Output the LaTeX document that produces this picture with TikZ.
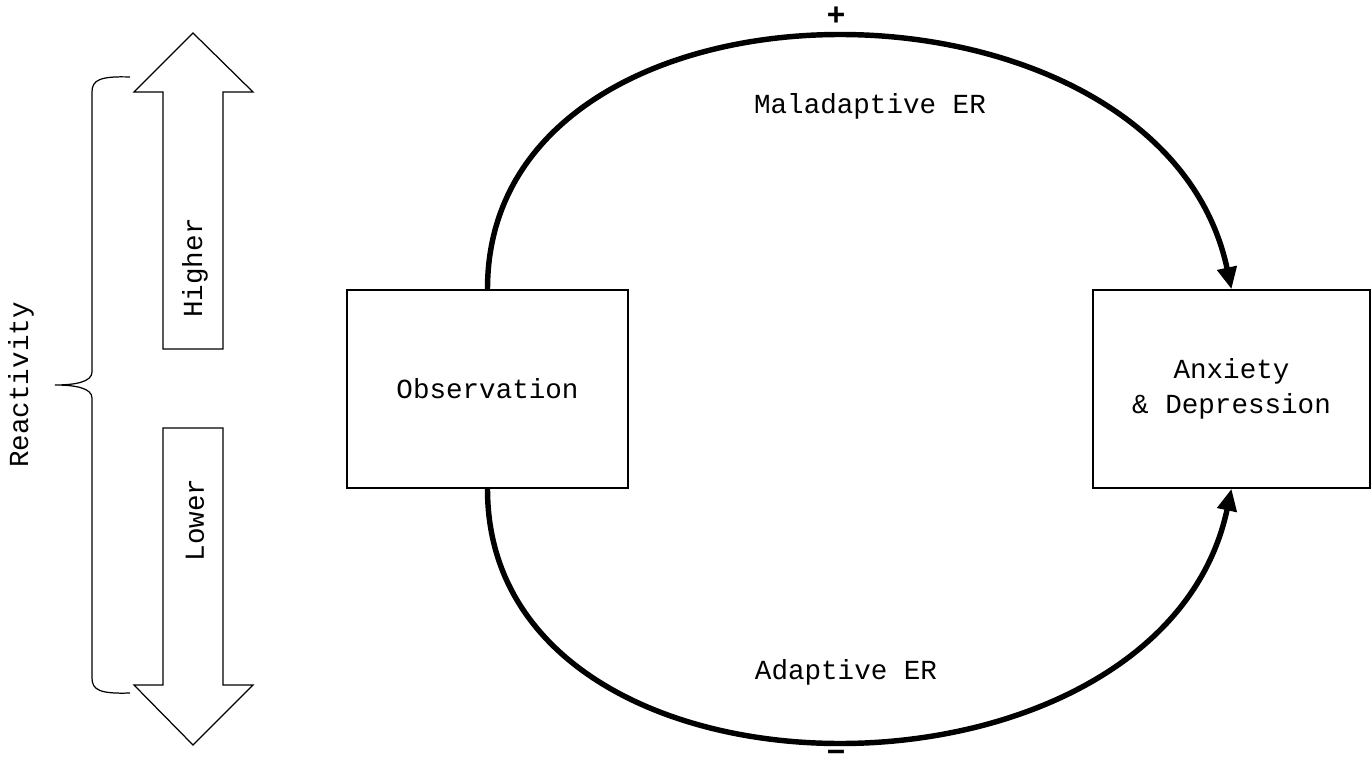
\documentclass[tikz,border=0pt]{standalone}
\usepackage{fontspec}
\setmainfont{Liberation Mono}
\newfontfamily\signfont{Liberation Sans}
\usepackage{tikz}
\usetikzlibrary{arrows.meta,positioning}
\tikzset{
  lbl/.style={font=\fontsize{15.7}{20}\selectfont},
  statebox/.style={rectangle, draw=black, line width=0.8pt,
                   minimum width=5.62cm, minimum height=3.96cm,
                   align=center, lbl},
  blockarr/.style={draw=black, line width=0.7pt, fill=white},
  erarr/.style={-{Triangle[length=0.44cm, width=0.38cm]}, line width=3.1pt, draw=black},
  sign/.style={font=\signfont\bfseries\fontsize{18}{20}\selectfont, inner sep=0pt},
}

\begin{document}
\begin{tikzpicture}[x=0.02cm, y=-0.02cm]
  \useasboundingbox (0,0) rectangle (1371,763);
  % reactivity scale
  \draw[blockarr] (163,349) -- (163,92) -- (134,92) -- (193,33) -- (253,92) -- (223,92) -- (223,349) -- cycle;
  \draw[blockarr] (163,428) -- (163,685) -- (134,685) -- (193,745) -- (253,685) -- (223,685) -- (223,428) -- cycle;
  \node[lbl, rotate=90] (hi) at (195,268) {Higher};
  \node[lbl, rotate=90] (lo) at (195,520) {Lower};
  \draw[line width=0.7pt] (130,77) .. controls (100,76) and (92,80) .. (92,92) -- (92,372)
    .. controls (92,382) and (75,385) .. (55,385)
    .. controls (75,385) and (92,388) .. (92,398) -- (92,678)
    .. controls (92,690) and (100,694) .. (130,693);
  \node[lbl, rotate=90] (react) at (21,385) {Reactivity};
  % model
  \node[statebox] (obs) at (487.5,389) {Observation};
  \node[statebox, minimum width=5.54cm] (anx) at (1231.5,389) {Anxiety\\\& Depression};
  \draw[erarr] (obs.north) .. controls (487,-47) and (1160,-47) .. (anx.north);
  \draw[erarr] (obs.south) .. controls (487,825) and (1160,825) .. (anx.south);
  \node[lbl] (mal) at (870,106) {Maladaptive ER};
  \node[lbl] (ada) at (846,672) {Adaptive ER};
  \node[sign] (plus) at (836,16) {+};
  \node[sign] (minus) at (836,756) {−};
\end{tikzpicture}
\end{document}
